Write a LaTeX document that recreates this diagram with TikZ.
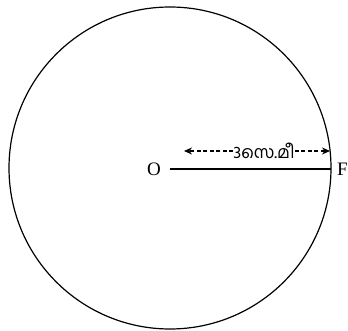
\documentclass[tikz,border=0pt]{standalone}
\usepackage{fontspec}
\setmainfont{Liberation Serif}
\newfontfamily\malfont[Script=Malayalam]{Hind Kochi}
\usetikzlibrary{arrows.meta}
\begin{document}
\begin{tikzpicture}[x=1pt,y=-1pt,
  lbl/.style={font=\fontsize{19}{19}\selectfont, inner sep=0pt},
  dimarrow/.style={line width=1.6pt, dash pattern=on 4pt off 2.5pt, -{Stealth[length=8pt,width=7pt]}}]
\useasboundingbox (0,0) rectangle (348,331);
\coordinate (C) at (170,168);
\draw[line width=1.2pt] (C) circle[radius=161];
\coordinate (P) at (331,169);
\draw[line width=1.3pt] (170,169) -- (P);
\node[lbl, anchor=east] (O) at (161,169) {O};
\node[lbl, anchor=west] (F) at (337,169) {F};
\node[inner sep=0pt, font=\fontsize{17}{17}\selectfont] (D) at (264,151) {\malfont 3സെ.മീ};
\coordinate (A1) at (184,151);
\coordinate (A2) at (330,151);
\draw[dimarrow] (D.west) -- (A1);
\draw[dimarrow] (D.east) -- (A2);
\end{tikzpicture}
\end{document}
